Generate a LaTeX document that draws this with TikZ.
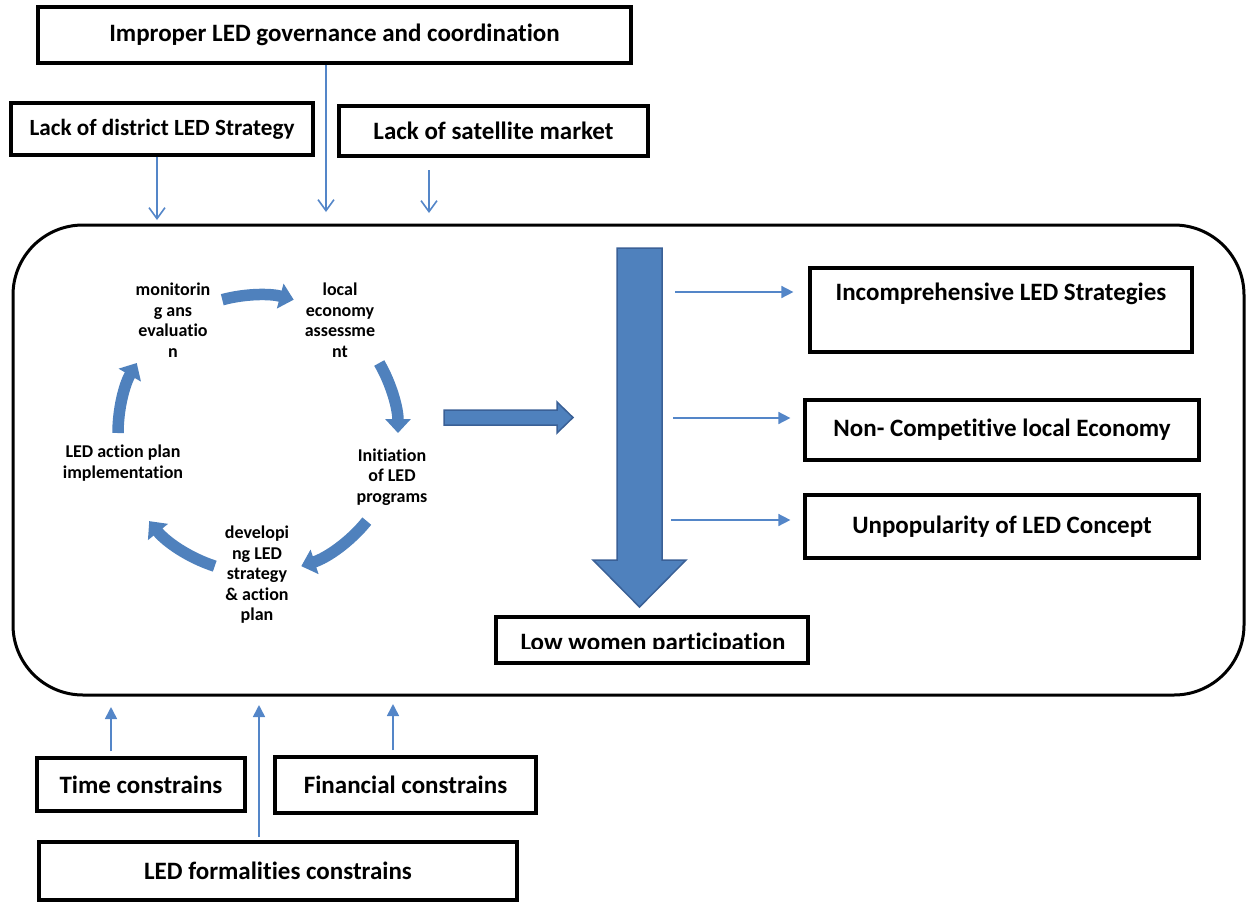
\documentclass[tikz,border=0pt]{standalone}
\usepackage{fontspec}
\setmainfont{Carlito}[Ligatures=NoCommon]
\usetikzlibrary{arrows.meta}
\definecolor{cycblue}{RGB}{79,129,189}
\definecolor{cycdark}{RGB}{58,96,150}
\definecolor{linkblue}{RGB}{84,134,200}
\begin{document}
\begin{tikzpicture}[x=1pt,y=-1pt,
  box/.style={draw=black, line width=3.2pt, fill=white, inner sep=2pt, font=\bfseries\fontsize{25}{28}\selectfont},
  cyctext/.style={align=center, font=\bfseries\fontsize{18}{20.5}\selectfont, inner sep=0pt},
  cycarrow/.style={cycblue, line width=11.5pt, -{Triangle[length=14pt,width=25pt]}},
  downlink/.style={linkblue, line width=1.6pt, -{Straight Barb[length=11pt,width=16pt,line width=1.6pt]}},
  sidelink/.style={linkblue, line width=1.6pt, -{Triangle[length=12pt,width=12pt]}},
  blockarrow/.style={fill=cycblue, draw=cycdark, line width=1.5pt, line join=miter}]
\useasboundingbox (0,0) rectangle (1248,903);

% frame
\node[draw=black, line width=3pt, rounded corners=70pt, minimum width=1231pt, minimum height=470pt, inner sep=0pt] (frame) at (628.5,460) {};

% top boxes
\node[box, minimum width=593pt, minimum height=56pt] (gov) at (334.5,35) {Improper LED governance and coordination};
\node[box, minimum width=302pt, minimum height=52pt, font=\bfseries\fontsize{23.2}{27}\selectfont] (district) at (162,129) {Lack of district LED Strategy};
\node[box, minimum width=309pt, minimum height=50pt] (satellite) at (493.5,131) {Lack of satellite market};

\coordinate (govend) at (326,212);
\coordinate (distend) at (157,220);
\coordinate (satstart) at (429,170);
\coordinate (satend) at (429,213);
\draw[downlink] (gov.south -| govend) -- (govend);
\draw[downlink] (district.south -| distend) -- (distend);
\draw[downlink] (satstart) -- (satend);

% cycle
\coordinate (cc) at (258,433);
\draw[cycarrow] (cc) ++(-105:138) arc[start angle=-105, end angle=-75, radius=138];
\draw[cycarrow] (cc) ++(-30:140) arc[start angle=-30, end angle=0, radius=140];
\draw[cycarrow] (cc) ++(39:140) arc[start angle=39, end angle=72, radius=140];
\draw[cycarrow] (cc) ++(108:140) arc[start angle=108, end angle=141, radius=140];
\draw[cycarrow] (cc) ++(180:140) arc[start angle=180, end angle=210, radius=140];

\node[cyctext] (monitor) at (173,320) {monitorin\\g ans\\evaluatio\\n};
\node[cyctext] (local) at (340,320) {local\\economy\\assessme\\nt};
\node[cyctext] (initiation) at (392,477) {Initiation\\of LED\\programs};
\node[cyctext] (developing) at (257,575) {developi\\ng LED\\strategy\\\& action\\plan};
\node[cyctext] (action) at (123,463) {LED action plan\\implementation};

% block arrows
\draw[blockarrow] (444,410) -- (557,410) -- (557,402) -- (573,417.5) -- (557,433) -- (557,425) -- (444,425) -- cycle;
\draw[blockarrow] (617,248) -- (662,248) -- (662,560) -- (686,560) -- (639.5,607) -- (593,560) -- (617,560) -- cycle;

% right boxes
\node[box, minimum width=382pt, minimum height=84pt, align=center] (incomp) at (1001,310) {Incomprehensive LED Strategies\\[1pt]\strut};
\node[box, minimum width=394pt, minimum height=60pt] (noncomp) at (1002,430) {Non- Competitive local Economy};
\node[box, minimum width=394pt, minimum height=63pt] (unpop) at (1002,526.5) {Unpopularity of LED Concept};

\coordinate (r1) at (675,292);
\coordinate (r2) at (673,418);
\coordinate (r3) at (671,520);
\draw[sidelink, shorten >=15pt] (r1) -- (incomp.west |- r1);
\draw[sidelink, shorten >=13pt] (r2) -- (noncomp.west |- r2);
\draw[sidelink, shorten >=13pt] (r3) -- (unpop.west |- r3);

% low women participation (text clipped)
\node[box, minimum width=312pt, minimum height=46pt] (low) at (652,640) {};
\begin{scope}
  \clip (500,619) rectangle (805,648.5);
  \node[font=\bfseries\fontsize{25}{28}\selectfont, anchor=base, inner sep=0pt] (lowtext) at (653,650) {Low women participation};
\end{scope}

% bottom boxes
\node[box, minimum width=208pt, minimum height=53pt] (time) at (141,784.5) {Time constrains};
\node[box, minimum width=261pt, minimum height=56pt] (fin) at (405.5,785) {Financial constrains};
\node[box, minimum width=478pt, minimum height=58pt] (formal) at (278,871) {LED formalities constrains};

\coordinate (tend) at (111,707);
\coordinate (fstart) at (393,750);
\coordinate (fend) at (393,704);
\coordinate (mstart) at (259,837);
\coordinate (mend) at (259,705);
\draw[sidelink] (time.north -| tend) ++(0,-5) -- (tend);
\draw[sidelink] (fstart) -- (fend);
\draw[sidelink] (mstart) -- (mend);
\end{tikzpicture}
\end{document}
